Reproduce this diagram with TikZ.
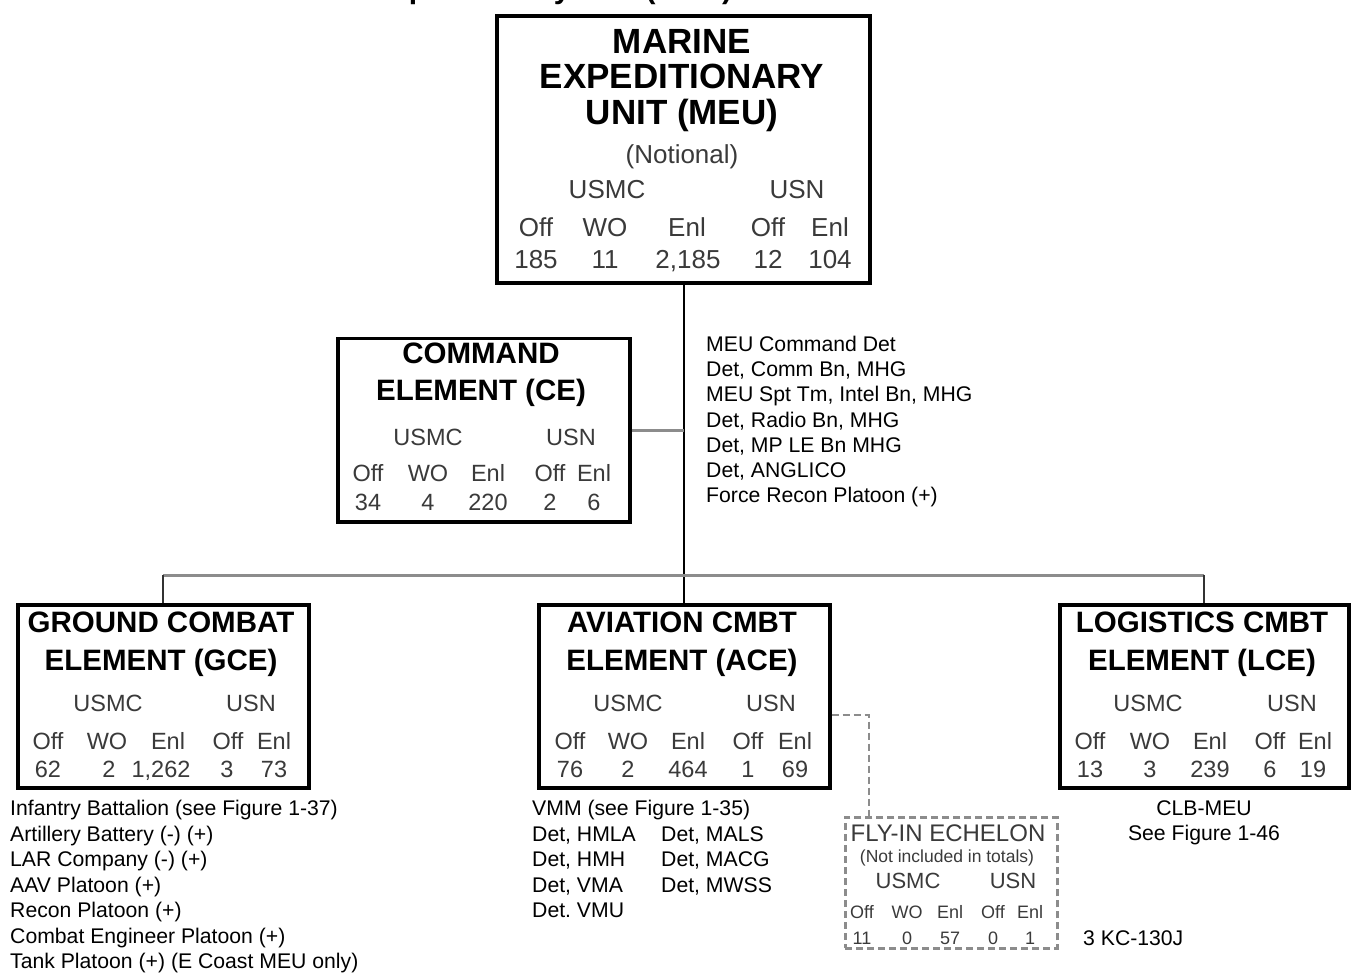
\documentclass[tikz,border=0pt]{standalone}
\usepackage{fontspec}
\setmainfont{Liberation Sans}
\frenchspacing
\definecolor{txt}{HTML}{3A3A3A}
\definecolor{lin}{HTML}{8C8C8C}
\tikzset{
  box/.style={draw=black, line width=3.5pt, anchor=north west, inner sep=0pt, fill=white},
  dbox/.style={draw=lin, line width=2.5pt, dash pattern=on 7pt off 4pt, anchor=north west, inner sep=0pt},
  hdbig/.style={anchor=base, inner sep=0pt, font=\fontsize{35}{35}\selectfont\bfseries},
  hd/.style={anchor=base, inner sep=0pt, font=\fontsize{29.5}{29.5}\selectfont\bfseries},
  dtbig/.style={anchor=base, inner sep=0pt, text=txt, font=\fontsize{26}{26}\selectfont},
  dt/.style={anchor=base, inner sep=0pt, text=txt, font=\fontsize{23.5}{23.5}\selectfont},
  dtsm/.style={anchor=base, inner sep=0pt, text=txt, font=\fontsize{18}{18}\selectfont},
  ls/.style={anchor=base west, inner sep=0pt, font=\fontsize{21.2}{21.2}\selectfont},
  lsc/.style={anchor=base, inner sep=0pt, font=\fontsize{21.2}{21.2}\selectfont},
  conn/.style={draw=lin, line width=2.5pt},
}
\begin{document}
\begin{tikzpicture}[x=1pt,y=-1pt]
\clip (0,0) rectangle (1354,973);
% title (cut off at top)
\node[anchor=base west, inner sep=0pt, font=\fontsize{30}{30}\selectfont\bfseries] (title) at (267,-1) {Marine Expeditionary Unit (MEU)};
% boxes
\node[box, line width=4pt, minimum width=373pt, minimum height=267pt] (meu) at (495,14) {};
\node[box, minimum width=292pt, minimum height=183pt] (ce) at (336,337) {};
\node[box, minimum width=291pt, minimum height=183pt] (gce) at (16,603) {};
\node[box, minimum width=291pt, minimum height=183pt] (ace) at (537,603) {};
\node[box, minimum width=289pt, minimum height=183pt] (lce) at (1058,603) {};
\node[dbox, minimum width=212pt, minimum height=131pt] (fly) at (844,816) {};
% connectors
\coordinate (j) at (682,575);
\coordinate (fj) at (869,715);
\draw[line width=2pt] (meu.south) -- (meu.south |- ace.north);
\draw[conn, line width=3pt] (gce.north |- j) -- (lce.north |- j);
\draw[line width=2pt, black!80] (gce.north |- j) -- (gce.north);
\draw[line width=2pt, black!80] (lce.north |- j) -- (lce.north);
\draw[conn] (ce.east) -- (ce.east -| meu.south);
\draw[conn, dash pattern=on 7pt off 4pt] (ace.east |- fj) -- (fj) -- (fj |- fly.north);
% MEU text
\node[hdbig] (meu1) at (682,54) {MARINE};
\node[hdbig] (meu2) at (682,89) {EXPEDITIONARY};
\node[hdbig] (meu3) at (682,125) {UNIT (MEU)};
\node[dtbig] (meu4) at (682,164) {(Notional)};
\node[dtbig] (meuA) at (607,199) {USMC};
\node[dtbig] (meuB) at (797,199) {USN};
\foreach \t/\x [count=\i] in {Off/536,WO/605,Enl/687,Off/768,Enl/830}
  \node[dtbig] (meuL\i) at (\x,237) {\t};
\foreach \t/\x [count=\i] in {185/536,11/605,{2,185}/688,12/768,104/830}
  \node[dtbig] (meuN\i) at (\x,269) {\t};
% CE text
\node[hd] (ce1) at (481,363) {COMMAND};
\node[hd] (ce2) at (481,400) {ELEMENT (CE)};
\node[dt] (ceA) at (428,445) {USMC};
\node[dt] (ceB) at (571,445) {USN};
\foreach \t/\x [count=\i] in {Off/368,WO/428,Enl/488,Off/550,Enl/594}
  \node[dt] (ceL\i) at (\x,481) {\t};
\foreach \t/\x [count=\i] in {34/368,4/428,220/488,2/550,6/594}
  \node[dt] (ceN\i) at (\x,510) {\t};
% GCE text
\node[hd] (gce1) at (161,632) {GROUND COMBAT};
\node[hd] (gce2) at (161,670) {ELEMENT (GCE)};
\node[dt] (gceA) at (108,711) {USMC};
\node[dt] (gceB) at (251,711) {USN};
\foreach \t/\x [count=\i] in {Off/48,WO/107,Enl/168,Off/228,Enl/274}
  \node[dt] (gceL\i) at (\x,749) {\t};
\foreach \t/\x [count=\i] in {62/48,2/109,{1,262}/161,3/227,73/274}
  \node[dt] (gceN\i) at (\x,777) {\t};
% ACE text
\node[hd] (ace1) at (682,632) {AVIATION CMBT};
\node[hd] (ace2) at (682,670) {ELEMENT (ACE)};
\node[dt] (aceA) at (628,711) {USMC};
\node[dt] (aceB) at (771,711) {USN};
\foreach \t/\x [count=\i] in {Off/570,WO/628,Enl/688,Off/748,Enl/795}
  \node[dt] (aceL\i) at (\x,749) {\t};
\foreach \t/\x [count=\i] in {76/570,2/628,464/688,1/748,69/795}
  \node[dt] (aceN\i) at (\x,777) {\t};
% LCE text
\node[hd] (lce1) at (1202,632) {LOGISTICS CMBT};
\node[hd] (lce2) at (1202,670) {ELEMENT (LCE)};
\node[dt] (lceA) at (1148,711) {USMC};
\node[dt] (lceB) at (1292,711) {USN};
\foreach \t/\x [count=\i] in {Off/1090,WO/1150,Enl/1210,Off/1270,Enl/1315}
  \node[dt] (lceL\i) at (\x,749) {\t};
\foreach \t/\x [count=\i] in {13/1090,3/1150,239/1210,6/1270,19/1313}
  \node[dt] (lceN\i) at (\x,777) {\t};
% Fly-in text
\node[anchor=base, inner sep=0pt, text=txt, font=\fontsize{24}{24}\selectfont] (fly1) at (948,841) {FLY-IN ECHELON};
\node[anchor=base, inner sep=0pt, text=txt, font=\fontsize{17.5}{17.5}\selectfont] (fly2) at (947,862) {(Not included in totals)};
\node[anchor=base, inner sep=0pt, text=txt, font=\fontsize{22}{22}\selectfont] (flyA) at (908,888) {USMC};
\node[anchor=base, inner sep=0pt, text=txt, font=\fontsize{22}{22}\selectfont] (flyB) at (1013,888) {USN};
\foreach \t/\x [count=\i] in {Off/862,WO/907,Enl/950,Off/993,Enl/1030}
  \node[dtsm] (flyL\i) at (\x,918.5) {\t};
\foreach \t/\x [count=\i] in {11/862,0/907,57/950,0/993,1/1030}
  \node[dtsm] (flyN\i) at (\x,944.5) {\t};
% lists
\foreach \t [count=\i] in {MEU Command Det,{Det, Comm Bn, MHG},{MEU Spt Tm, Intel Bn, MHG},{Det, Radio Bn, MHG},{Det, MP LE Bn MHG},{Det, ANGLICO},Force Recon Platoon (+)}
  \node[ls] (cel\i) at (706,{351.5+25.2*(\i-1)}) {\t};
\foreach \t [count=\i] in {Infantry Battalion (see Figure 1-37),Artillery Battery (-) (+),LAR Company (-) (+),AAV Platoon (+),Recon Platoon (+),Combat Engineer Platoon (+),Tank Platoon (+) (E Coast MEU only)}
  \node[ls] (gcel\i) at (10,{815.5+25.5*(\i-1)}) {\t};
\foreach \t [count=\i] in {VMM (see Figure 1-35),{Det, HMLA},{Det, HMH},{Det, VMA},Det. VMU}
  \node[ls] (acel\i) at (532,{815.5+25.5*(\i-1)}) {\t};
\foreach \t [count=\i] in {{Det, MALS},{Det, MACG},{Det, MWSS}}
  \node[ls] (acer\i) at (661,{841+25.5*(\i-1)}) {\t};
\node[lsc] (lcel1) at (1204,815) {CLB-MEU};
\node[lsc] (lcel2) at (1204,840) {See Figure 1-46};
\node[ls] (kc) at (1083,945) {3 KC-130J};
\end{tikzpicture}
\end{document}
